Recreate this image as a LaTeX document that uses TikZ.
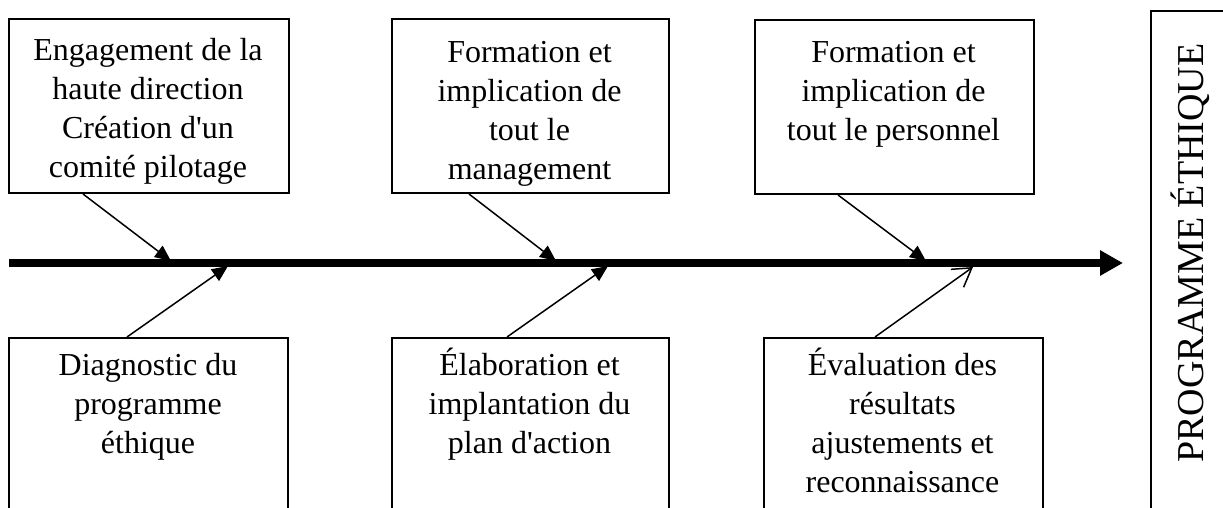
\documentclass[tikz,border=0pt]{standalone}
\usepackage{fontspec}
\setmainfont{Liberation Serif}[Ligatures=TeXOff]
\usetikzlibrary{arrows.meta,calc}
\newcommand{\firststrut}{\rule{0pt}{14pt}}
\begin{document}
\begin{tikzpicture}[x=0.5pt,y=-0.5pt,
  box/.style={draw, line width=1pt, inner sep=0pt, anchor=north west},
  txt/.style={align=center, font=\fontsize{16}{19.5}\selectfont, inner sep=0pt, anchor=north},
  spine/.style={line width=4pt, -{Triangle[length=11.5pt,width=12pt]}},
  cause/.style={line width=0.75pt, -{Triangle[length=8pt,width=7pt]}},
  causeopen/.style={line width=0.75pt, -{Straight Barb[length=9pt,width=11pt]}}
]
\useasboundingbox (0,0) rectangle (1223,508);

% boxes
\node[box, minimum width=140pt, minimum height=87pt] (b1) at (8,18) {};
\node[box, minimum width=138.5pt, minimum height=87pt] (b2) at (391,18) {};
\node[box, minimum width=139.5pt, minimum height=87pt] (b3) at (754,19) {};
\node[box, minimum width=139.5pt, minimum height=95pt] (b4) at (8,337) {};
\node[box, minimum width=138.5pt, minimum height=95pt] (b5) at (391,337) {};
\node[box, minimum width=139.5pt, minimum height=95pt] (b6) at (763,337) {};
\node[box, minimum width=50pt, minimum height=260pt] (b7) at (1150,10) {};

% texts
\node[txt] (t1) at (148,32) {\firststrut Engagement de la\\haute direction\\Création d'un\\comité pilotage};
\node[txt] (t2) at (529.5,34) {\firststrut Formation et\\implication de\\tout le\\management};
\node[txt] (t3) at (893.5,34) {\firststrut Formation et\\implication de\\tout le personnel};
\node[txt] (t4) at (148,347) {\firststrut Diagnostic du\\programme\\éthique};
\node[txt] (t5) at (529.5,347) {\firststrut Élaboration et\\implantation du\\plan d'action};
\node[txt] (t6) at (902.5,347) {\firststrut Évaluation des\\résultats\\ajustements et\\reconnaissance};
\node[font=\fontsize{19}{23}\selectfont, rotate=90, inner sep=0pt] (t7) at (1190,253) {PROGRAMME ÉTHIQUE};

% spine
\coordinate (sp0) at (9,263);
\coordinate (sp1) at (1123,263);
\draw[spine] (sp0) -- (sp1);

% connector ends on spine
\coordinate (e1) at (171,261);
\coordinate (e2) at (556,261);
\coordinate (e3) at (926,261);
\coordinate (e4) at (228,266);
\coordinate (e5) at (608,266);
\coordinate (e6) at (973,267);

% connector starts on boxes
\coordinate (s1) at ($(b1.south west)+(75,0)$);
\coordinate (s2) at ($(b2.south west)+(78,0)$);
\coordinate (s3) at ($(b3.south west)+(84,0)$);
\coordinate (s4) at ($(b4.north west)+(119,0)$);
\coordinate (s5) at ($(b5.north west)+(116,0)$);
\coordinate (s6) at ($(b6.north west)+(112,0)$);

\draw[cause] (s1) -- (e1);
\draw[cause] (s2) -- (e2);
\draw[cause] (s3) -- (e3);
\draw[cause] (s4) -- (e4);
\draw[cause] (s5) -- (e5);
\draw[causeopen] (s6) -- (e6);
\end{tikzpicture}
\end{document}
